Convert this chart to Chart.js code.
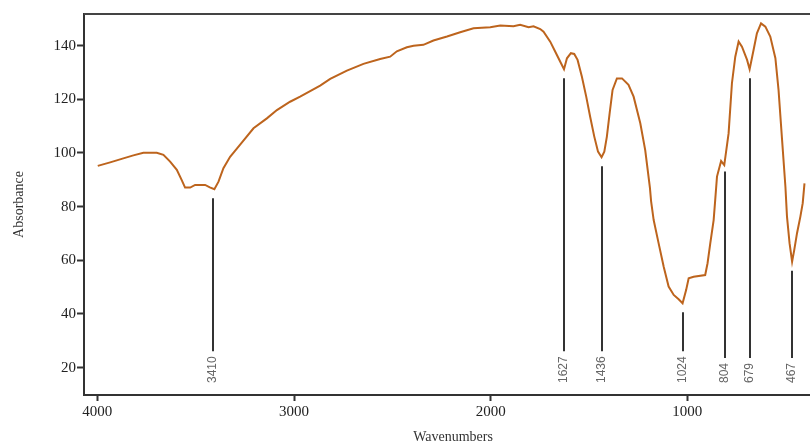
<!DOCTYPE html>
<html>
<head>
<meta charset="utf-8">
<script src="https://cdn.jsdelivr.net/npm/chart.js@4/dist/chart.umd.min.js"></script>
<style>
  body { margin: 0; background: #fff; }
  #wrap { width: 810px; height: 443px; position: relative; }
</style>
</head>
<body>
<div id="wrap"><canvas id="ir"></canvas></div>
<script>
// spectrum
var wavenumbers = [3998, 3935, 3868, 3817, 3766, 3698, 3664, 3630, 3596, 3571, 3554, 3528, 3503, 3452, 3428, 3405,
  3384, 3359, 3325, 3275, 3206, 3138, 3087, 3020, 2969, 2867, 2816, 2731, 2647, 2562, 2511, 2477, 2426, 2392,
  2342, 2291, 2222, 2155, 2087, 2002, 1951, 1884, 1850, 1807, 1782, 1748, 1731, 1697, 1672, 1646, 1627, 1612,
  1592, 1575, 1558, 1536, 1514, 1494, 1473, 1454, 1436, 1422, 1409, 1395, 1380, 1358, 1332, 1299, 1273, 1239,
  1214, 1190, 1184, 1171, 1146, 1120, 1095, 1069, 1044, 1024, 1006, 993, 968, 909, 897, 883, 866, 858, 849, 828,
  812, 790, 773, 756, 739, 722, 696, 683, 663, 646, 625, 603, 578, 552, 536, 518, 501, 493, 480, 467, 456, 442,
  425, 413, 404];
var absorbance = [95.2, 96.5, 98.0, 99.1, 100.1, 100.1, 99.3, 96.8, 93.7, 89.9, 87.1, 87.1, 88.1, 88.1, 87.2, 86.5,
  89.3, 94.3, 98.6, 103.0, 109.2, 112.9, 116.0, 119.1, 121.0, 125.1, 127.6, 130.7, 133.2, 135.0, 135.9, 137.9, 139.4, 140.0,
  140.3, 141.9, 143.4, 145.0, 146.5, 146.9, 147.5, 147.2, 147.8, 146.9, 147.2, 146.2, 145.2, 141.5, 137.8, 134.0, 131.2, 135.3,
  137.2, 136.9, 134.7, 128.4, 121.0, 113.5, 106.1, 100.5, 98.4, 100.5, 106.1, 114.8, 123.5, 127.8, 127.8, 125.4, 121.0, 111.1,
  101.1, 87.0, 82.0, 75.0, 66.4, 57.6, 50.2, 47.1, 45.5, 44.0, 48.9, 53.3, 53.9, 54.5, 58.9, 66.4, 75.0, 82.5, 91.2, 97.0,
  95.5, 107.3, 126.0, 135.9, 141.5, 139.6, 134.7, 131.2, 138.4, 144.6, 148.3, 147.1, 143.4, 135.3, 123.5, 104.9, 87.4, 76.3, 66.4, 59.5, 63.9, 70.1,
  76.3, 81.3, 88.7];

// labelled peaks
var peakLabels = ["3410", "1627", "1436", "1024", "804", "679", "467"];
var peakPositions = [3410, 1627, 1436, 1024, 807, 679, 467];
var peakValues = [86.5, 131.2, 98.4, 44.0, 96.5, 131.2, 59.5];

var xTicks = [4000, 3000, 2000, 1000];
var yTicks = [20, 40, 60, 80, 100, 120, 140];

var points = wavenumbers.map(function (w, i) { return { x: w, y: absorbance[i] }; });

var peakPlugin = {
  id: 'peaks',
  afterDatasetsDraw: function (chart) {
    var ctx = chart.ctx, a = chart.chartArea;
    var xs = chart.scales.x, ys = chart.scales.y;
    ctx.save();
    // top frame line
    ctx.strokeStyle = '#444';
    ctx.lineWidth = 2;
    ctx.beginPath();
    ctx.moveTo(a.left, a.top);
    ctx.lineTo(a.right, a.top);
    ctx.stroke();

    ctx.font = '12px "Liberation Sans"';
    for (var i = 0; i < peakLabels.length; i++) {
      var px = Math.round(xs.getPixelForValue(peakPositions[i]));
      var top = ys.getPixelForValue(peakValues[i]) + 9;
      var textBottom = a.bottom - 12;
      var w = ctx.measureText(peakLabels[i]).width;
      ctx.strokeStyle = '#333';
      ctx.lineWidth = 2;
      ctx.beginPath();
      ctx.moveTo(px, top);
      ctx.lineTo(px, textBottom - w - 5);
      ctx.stroke();
      ctx.save();
      ctx.translate(px, textBottom);
      ctx.rotate(-Math.PI / 2);
      ctx.fillStyle = '#666';
      ctx.textAlign = 'left';
      ctx.textBaseline = 'middle';
      ctx.fillText(peakLabels[i], 0, 0);
      ctx.restore();
    }

    // axis titles
    ctx.fillStyle = '#333';
    ctx.font = '14px "Liberation Serif"';
    ctx.textAlign = 'center';
    ctx.textBaseline = 'middle';
    ctx.fillText('Wavenumbers', 453, 437);
    ctx.save();
    ctx.translate(19, (a.top + a.bottom) / 2);
    ctx.rotate(-Math.PI / 2);
    ctx.fillText('Absorbance', 0, 0);
    ctx.restore();
    ctx.restore();
  }
};

new Chart(document.getElementById('ir'), {
  type: 'line',
  data: {
    datasets: [{
      label: 'Absorbance',
      data: points,
      borderColor: '#bd641d',
      borderWidth: 2,
      pointRadius: 0,
      tension: 0,
      fill: false
    }]
  },
  options: {
    responsive: true,
    maintainAspectRatio: false,
    animation: false,
    layout: { padding: { top: 14, right: 0, left: 0, bottom: 0 } },
    plugins: { legend: { display: false }, tooltip: { enabled: false } },
    scales: {
      x: {
        type: 'linear',
        reverse: true,
        min: 376,
        max: 4068,
        afterBuildTicks: function (s) { s.ticks = xTicks.map(function (v) { return { value: v }; }); },
        afterFit: function (s) { s.height = 48; },
        border: { color: '#333', width: 2 },
        grid: { drawOnChartArea: false, tickLength: 6, tickWidth: 2, tickColor: '#333' },
        ticks: {
          color: '#222', font: { family: 'Liberation Serif', size: 15 }, padding: 2, maxRotation: 0,
          callback: function (v) { return String(v); }
        }
      },
      y: {
        min: 9.8,
        max: 151.8,
        afterBuildTicks: function (s) { s.ticks = yTicks.map(function (v) { return { value: v }; }); },
        afterFit: function (s) { s.width = 84; },
        border: { color: '#333', width: 2 },
        grid: { drawOnChartArea: false, tickLength: 7, tickWidth: 2, tickColor: '#333' },
        ticks: {
          color: '#222', font: { family: 'Liberation Serif', size: 15 }, padding: 1,
          callback: function (v) { return String(v); }
        }
      }
    }
  },
  plugins: [peakPlugin]
});
</script>
</body>
</html>
